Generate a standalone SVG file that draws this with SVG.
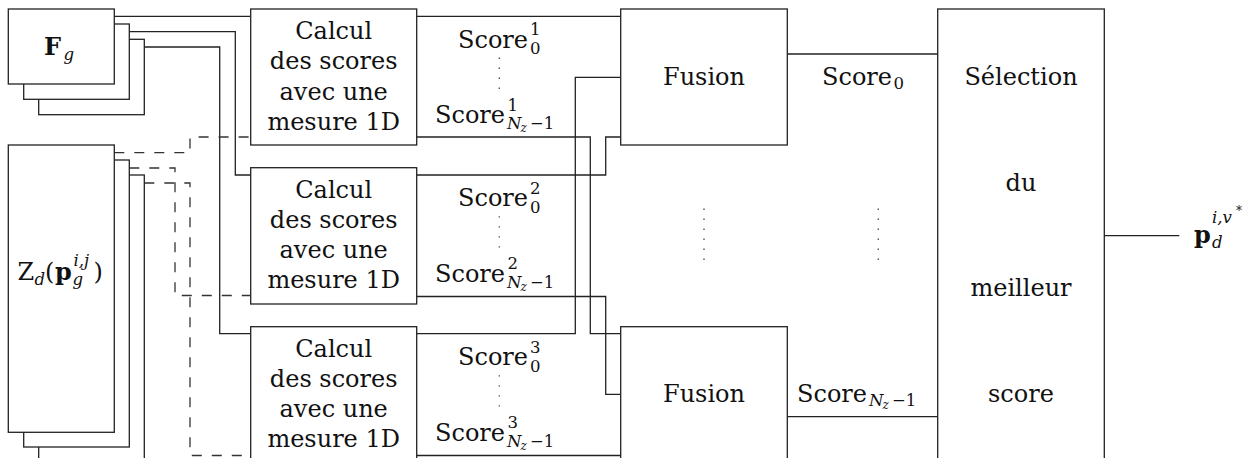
<svg xmlns="http://www.w3.org/2000/svg" width="1252" height="458" viewBox="0 0 1252 458">
<style>
  .box { fill: #fff; stroke: #222; stroke-width: 1.3; }
  .ln { fill: none; stroke: #222; stroke-width: 1.3; }
  .dash { fill: none; stroke: #333; stroke-width: 1.3; stroke-dasharray: 10 10; }
  .dots { fill: none; stroke: #555; stroke-width: 1.4; stroke-dasharray: 1.4 8.6; }
  text { font-family: 'DejaVu Serif', serif; font-size: 24px; fill: #111; }
  .c { text-anchor: middle; }
  .s { font-size: 16.5px; }
  .ss { font-size: 12px; }
  .i { font-style: italic; }
  .b { font-weight: bold; }
</style>
<rect width="1252" height="458" fill="#fff"/>

<g id="connectors">
  <path class="ln" d="M114.3 16.3 H250.7"/>
  <path class="ln" d="M129.3 31.7 H235.3 V175 H250.7"/>
  <path class="ln" d="M144.3 47 H219.7 V333.7 H250.7"/>
  <path class="dash" d="M114.3 152.7 H190 V137 H250.7"/>
  <path class="dash" d="M129.3 168 H175 V295.5 H250.7"/>
  <path class="dash" d="M144.3 183 H190 V455.5 H250.7"/>
  <path class="ln" d="M416.7 16.3 H620.7"/>
  <path class="ln" d="M416.7 137 H590.3 V333.7 H620.7"/>
  <path class="ln" d="M416.7 175 H605.7 V137 H620.7"/>
  <path class="ln" d="M416.7 296.5 H605.7 V394.3 H620.7"/>
  <path class="ln" d="M416.7 333.7 H575.3 V77.3 H620.7"/>
  <path class="ln" d="M416.7 455.5 H620.7"/>
  <path class="ln" d="M787.3 54 H937.7"/>
  <path class="ln" d="M787.3 416.7 H937.7"/>
  <path class="ln" d="M1104.3 235.7 H1179.3"/>
</g>

<g id="Fg">
  <rect class="box" x="38.7" y="39.3" width="105.6" height="75.4"/>
  <rect class="box" x="23.7" y="24" width="105.6" height="75.3"/>
  <rect class="box" x="8.3" y="9" width="106" height="75"/>
  <text x="44" y="55"><tspan class="b">F</tspan><tspan class="s i" x="63.5" y="60">g</tspan></text>
</g>

<g id="Zd">
  <rect class="box" x="38.7" y="175" width="105.6" height="300"/>
  <rect class="box" x="23.7" y="160" width="105.6" height="287"/>
  <rect class="box" x="8.3" y="145" width="106" height="287.3"/>
  <text x="17.5" y="280">Z<tspan class="s i" x="34.5" y="285">d</tspan><tspan x="45" y="280">(</tspan><tspan class="b" x="55" y="280">p</tspan><tspan class="s i" x="72.5" y="285">g</tspan><tspan class="s i" x="73.5" y="266">i,j</tspan><tspan x="93.5" y="280">)</tspan></text>
</g>

<g id="calcul1">
  <rect class="box" x="250.7" y="9" width="166" height="136"/>
  <text class="c" x="333.7" y="39">Calcul</text>
  <text class="c" x="333.7" y="69">des scores</text>
  <text class="c" x="333.7" y="99.5">avec une</text>
  <text class="c" x="333.7" y="129.5">mesure 1D</text>
</g>
<g id="calcul2">
  <rect class="box" x="250.7" y="167.7" width="166" height="136.3"/>
  <text class="c" x="333.7" y="197.7">Calcul</text>
  <text class="c" x="333.7" y="227.7">des scores</text>
  <text class="c" x="333.7" y="258.2">avec une</text>
  <text class="c" x="333.7" y="288.2">mesure 1D</text>
</g>
<g id="calcul3">
  <rect class="box" x="250.7" y="326.7" width="166" height="140"/>
  <text class="c" x="333.7" y="356.7">Calcul</text>
  <text class="c" x="333.7" y="386.7">des scores</text>
  <text class="c" x="333.7" y="417.2">avec une</text>
  <text class="c" x="333.7" y="447.2">mesure 1D</text>
</g>

<g id="scores1">
  <text x="458" y="47.7">Score<tspan class="s" x="530" y="35">1</tspan><tspan class="s" x="530" y="54">0</tspan></text>
  <path class="dots" d="M499.3 57.5 V92"/>
  <text x="435" y="123.3">Score<tspan class="s" x="507.5" y="110.5">1</tspan><tspan class="s i" x="507" y="129.3">N</tspan><tspan class="ss i" x="520.5" y="132">z</tspan><tspan class="s" x="530" y="129.3">−1</tspan></text>
</g>
<g id="scores2">
  <text x="458" y="206.4">Score<tspan class="s" x="530" y="193.7">2</tspan><tspan class="s" x="530" y="212.7">0</tspan></text>
  <path class="dots" d="M499.3 216.2 V250.7"/>
  <text x="435" y="282">Score<tspan class="s" x="507.5" y="269.2">2</tspan><tspan class="s i" x="507" y="288">N</tspan><tspan class="ss i" x="520.5" y="290.7">z</tspan><tspan class="s" x="530" y="288">−1</tspan></text>
</g>
<g id="scores3">
  <text x="458" y="365.4">Score<tspan class="s" x="530" y="352.7">3</tspan><tspan class="s" x="530" y="371.7">0</tspan></text>
  <path class="dots" d="M499.3 375.2 V409.7"/>
  <text x="435" y="441">Score<tspan class="s" x="507.5" y="428.2">3</tspan><tspan class="s i" x="507" y="447">N</tspan><tspan class="ss i" x="520.5" y="449.7">z</tspan><tspan class="s" x="530" y="447">−1</tspan></text>
</g>

<g id="fusion1">
  <rect class="box" x="620.7" y="9" width="166.6" height="136"/>
  <text class="c" x="704" y="85">Fusion</text>
</g>
<g id="fusion2">
  <rect class="box" x="620.7" y="326.7" width="166.6" height="140"/>
  <text class="c" x="704" y="401.7">Fusion</text>
</g>

<g id="vdots">
  <path class="dots" d="M704 208.6 V262"/>
  <path class="dots" d="M878.3 208.6 V262"/>
</g>

<g id="score-labels">
  <text x="822" y="85">Score<tspan class="s" x="893.5" y="89">0</tspan></text>
  <text x="797" y="401.7">Score<tspan class="s i" x="869" y="406">N</tspan><tspan class="ss i" x="882.5" y="408.5">z</tspan><tspan class="s" x="892" y="406">−1</tspan></text>
</g>

<g id="selection">
  <rect class="box" x="937.7" y="9" width="166.6" height="460"/>
  <text class="c" x="1021" y="85">Sélection</text>
  <text class="c" x="1021" y="190.7">du</text>
  <text class="c" x="1021" y="296.3">meilleur</text>
  <text class="c" x="1021" y="402">score</text>
</g>

<g id="output">
  <text x="1194" y="243.3"><tspan class="b">p</tspan><tspan class="s i" x="1212" y="248">d</tspan><tspan class="s i" x="1212" y="223">i,v</tspan><tspan class="ss" x="1236" y="215">*</tspan></text>
</g>
</svg>
